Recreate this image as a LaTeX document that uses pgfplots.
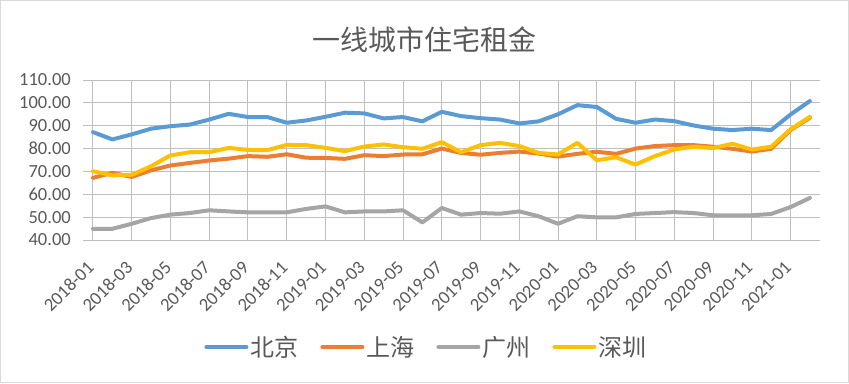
\documentclass[border=0pt]{standalone}
\usepackage{pgfplots}
\pgfplotsset{compat=1.18}
\usepackage{fontspec}
\setmainfont{Carlito}
\newfontfamily\cjk{Noto Sans CJK SC}
\definecolor{cBJ}{HTML}{5B9BD5}
\definecolor{cSH}{HTML}{ED7D31}
\definecolor{cGZ}{HTML}{A5A5A5}
\definecolor{cSZ}{HTML}{FFC000}
\definecolor{txt}{HTML}{595959}
\definecolor{grid}{HTML}{D9D9D9}
\begin{document}
\begin{tikzpicture}[x=1pt,y=1pt]
\draw[grid, line width=1pt] (0.5,0.5) rectangle (848.5,382.5);
\node[text=txt, font=\cjk\fontsize{28}{32}\selectfont] at (424.5,343) {一线城市住宅租金};
\begin{axis}[
  at={(83.3pt,143pt)}, anchor=south west,
  scale only axis, width=736.3pt, height=160pt,
  xmin=-0.5, xmax=37.5, ymin=40, ymax=110,
  ytick={40,50,...,110},
  xtick={0,2,...,36},
  xticklabels={2018-01,2018-03,2018-05,2018-07,2018-09,2018-11,2019-01,2019-03,2019-05,2019-07,2019-09,2019-11,2020-01,2020-03,2020-05,2020-07,2020-09,2020-11,2021-01},
  axis line style={draw=none},
  major tick length=0pt,
  ymajorgrids, grid style={grid, line width=1pt},
  tick label style={text=txt, font=\fontsize{18.5}{22}\selectfont},
  yticklabel style={/pgf/number format/.cd, fixed, fixed zerofill, precision=2, assume math mode=true},
  yticklabel shift=9pt,
  xticklabel style={rotate=45, anchor=east},
  xticklabel shift=22pt,
  legend columns=4,
  legend style={draw=none, fill=none, at={(0.466,-0.669)}, anchor=center,
    font=\cjk\fontsize{24}{28}\selectfont, text=txt,
    /tikz/every even column/.append style={column sep=20pt}},
  legend image code/.code={\draw[#1, line width=4pt, line cap=round] (0pt,0pt) -- (40pt,0pt);},
  every axis plot/.append style={line width=4pt, line join=round, line cap=round, mark=none},
]
\addplot[cBJ] table[x expr=\coordindex, y index=0] {
87.2
84.0
86.2
88.7
89.8
90.5
92.7
95.2
93.8
93.8
91.3
92.3
93.9
95.7
95.4
93.2
93.8
91.9
96.1
94.2
93.3
92.7
91.0
91.9
95.0
99.0
98.2
93.0
91.3
92.7
92.0
90.1
88.7
88.1
88.7
88.1
94.9
100.8
};
\addlegendentry{北京}
\addplot[cSH] table[x expr=\coordindex, y index=0] {
67.2
69.4
67.6
70.5
72.6
73.7
74.8
75.6
76.7
76.4
77.5
76.0
75.9
75.5
77.1
76.7
77.4
77.5
80.0
78.1
77.3
78.1
78.7
77.8
76.5
77.7
78.6
77.7
80.0
81.1
81.5
81.5
80.8
79.9
78.7
79.9
88.1
93.5
};
\addlegendentry{上海}
\addplot[cGZ] table[x expr=\coordindex, y index=0] {
44.9
44.9
47.1
49.6
51.1
51.8
53.0
52.5
52.1
52.1
52.1
53.6
54.7
52.1
52.5
52.5
53.0
47.7
54.0
51.1
51.8
51.5
52.5
50.4
47.1
50.4
49.9
49.9
51.4
51.8
52.2
51.8
50.8
50.8
50.8
51.4
54.4
58.4
};
\addlegendentry{广州}
\addplot[cSZ] table[x expr=\coordindex, y index=0] {
70.1
68.3
68.5
72.3
77.0
78.4
78.4
80.3
79.4
79.3
81.6
81.5
80.3
78.9
80.9
81.8
80.6
79.9
82.8
78.4
81.5
82.5
81.1
78.1
77.4
82.5
74.9
76.2
73.0
76.7
79.6
80.8
80.2
82.1
79.6
80.8
88.4
93.9
};
\addlegendentry{深圳}
\end{axis}
\end{tikzpicture}
\end{document}
